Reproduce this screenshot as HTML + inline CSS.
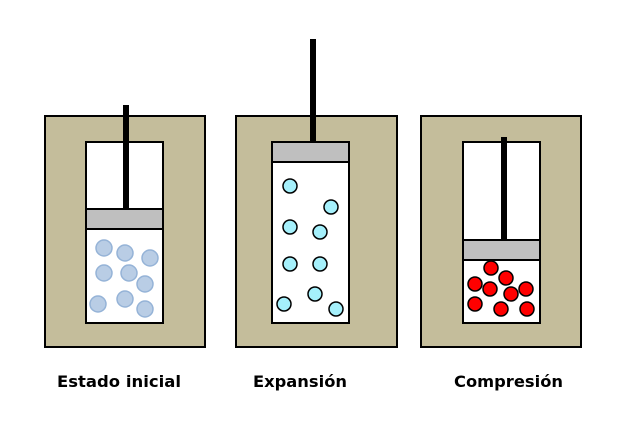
<!DOCTYPE html><html><head><style>body{margin:0;background:#fff;width:619px;height:427px;overflow:hidden}</style></head><body>
<svg width="619" height="427" xmlns="http://www.w3.org/2000/svg" font-family="DejaVu Sans, sans-serif" font-weight="bold" font-size="16">
<g stroke="#000" stroke-width="2">
<rect x="45" y="116" width="160" height="231" fill="#c4bd9b"/>
<rect x="86" y="142" width="77" height="181" fill="#fff"/>
<rect x="86" y="209" width="77" height="20" fill="#bfbfbf"/>
<rect x="236" y="116" width="161" height="231" fill="#c4bd9b"/>
<rect x="272" y="142" width="77" height="181" fill="#fff"/>
<rect x="272" y="142" width="77" height="20" fill="#bfbfbf"/>
<rect x="421" y="116" width="160" height="231" fill="#c4bd9b"/>
<rect x="463" y="142" width="77" height="181" fill="#fff"/>
<rect x="463" y="240" width="77" height="20" fill="#bfbfbf"/>
</g>
<rect x="123" y="105" width="6" height="104" fill="#000"/>
<rect x="310" y="39" width="6" height="103" fill="#000"/>
<rect x="501" y="137" width="6" height="103" fill="#000"/>
<g fill="#b9cde5" stroke="#95b3d7" stroke-width="1.5">
<circle cx="104" cy="248" r="8"/><circle cx="125" cy="253" r="8"/><circle cx="150" cy="258" r="8"/>
<circle cx="104" cy="273" r="8"/><circle cx="129" cy="273" r="8"/><circle cx="145" cy="284" r="8"/>
<circle cx="98" cy="304" r="8"/><circle cx="125" cy="299" r="8"/><circle cx="145" cy="309" r="8"/>
</g>
<g fill="#a5f0fb" stroke="#000" stroke-width="1.5">
<circle cx="290" cy="186" r="7"/><circle cx="331" cy="207" r="7"/><circle cx="290" cy="227" r="7"/>
<circle cx="320" cy="232" r="7"/><circle cx="290" cy="264" r="7"/><circle cx="320" cy="264" r="7"/>
<circle cx="284" cy="304" r="7"/><circle cx="315" cy="294" r="7"/><circle cx="336" cy="309" r="7"/>
</g>
<g fill="#f00" stroke="#000" stroke-width="1.5">
<circle cx="491" cy="268" r="7"/><circle cx="506" cy="278" r="7"/><circle cx="475" cy="284" r="7"/>
<circle cx="490" cy="289" r="7"/><circle cx="526" cy="289" r="7"/><circle cx="511" cy="294" r="7"/>
<circle cx="475" cy="304" r="7"/><circle cx="501" cy="309" r="7"/><circle cx="527" cy="309" r="7"/>
</g>
<text x="57" y="387" textLength="124" lengthAdjust="spacingAndGlyphs">Estado inicial</text>
<text x="253" y="387" textLength="94" lengthAdjust="spacingAndGlyphs">Expansión</text>
<text x="454" y="387" textLength="109" lengthAdjust="spacingAndGlyphs">Compresión</text>
</svg>
</body></html>
